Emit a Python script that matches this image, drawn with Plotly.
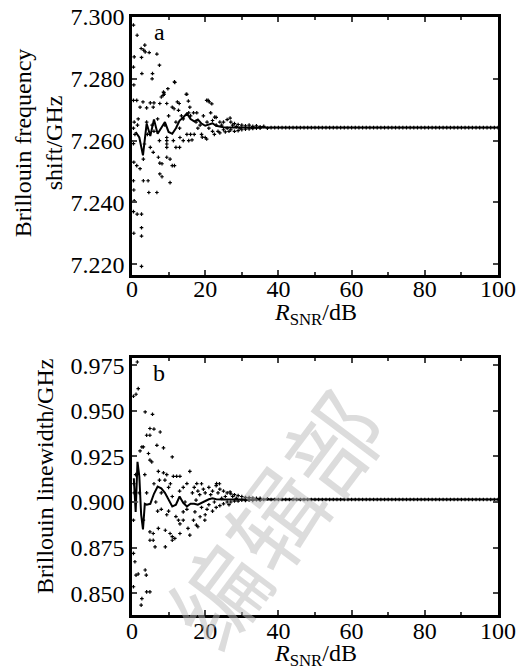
import plotly.graph_objects as go

# ---------------- data: panel a (Brillouin frequency shift) ----------------
a_scatter_x = [0.4, 1.4, 0.6, 0.4, 0.5, 0.4, 0.6, 0.4, 0.8, 0.4, 0.5, 0.4, 0.5, 0.6, 0.4, 0.5,
               1.4, 1.3, 1.3, 1.5, 1.7, 2.2, 2.2,
               2.5, 2.6, 2.7, 2.6, 2.6, 2.6, 2.6, 3.0, 3.1, 3.2, 3.1,
               3.5, 3.6, 3.4, 4.0, 4.4, 4.6, 4.0, 4.2, 4.7,
               5.0, 5.0, 5.6, 5.5, 5.8, 5.8, 6.0, 5.5, 6.0,
               6.8, 6.8, 7.2, 7.5, 7.6, 7.6, 7.6, 7.0, 7.5, 8.0, 8.2, 8.2,
               8.5, 8.7, 8.6, 8.8, 9.5, 9.5, 9.5, 9.5, 9.5, 9.8, 9.5, 9.0, 10.0,
               10.4, 10.4, 11.0, 11.0, 11.5, 11.6, 11.6, 11.7, 11.3, 12.0, 12.0,
               12.4, 12.7, 12.9, 13.0, 13.1, 13.5, 14.0, 14.0, 13.0,
               14.8, 15.0, 15.4, 15.8, 15.0, 16.0, 15.5, 15.5, 16.0,
               16.8, 17.0, 17.5, 17.7, 18.0, 18.6, 19.0, 19.5, 20.0, 20.4, 21.1, 20.5, 21.0,
               16.4, 19.2, 20.4, 20.8, 21.8, 22.6, 26.8,
               21.5, 22.0, 22.0, 22.5, 23.0, 23.0, 23.5, 24.0, 24.0, 24.5, 25.0, 25.0, 25.5, 26.0, 26.0,
               26.5, 27.0, 27.0, 27.5, 28.0, 28.0, 28.5, 29.0, 29.0, 29.5, 30.0, 30.0,
               31, 31, 32, 32, 33, 33, 34, 34, 35, 35, 36, 37]
a_scatter_y = [7.2974, 7.2941, 7.2871, 7.2838, 7.2780, 7.2730, 7.2660, 7.2640, 7.2620, 7.2590, 7.2530, 7.2470, 7.2440, 7.2405, 7.2370, 7.2300,
               7.2362, 7.2519, 7.2730, 7.2650, 7.2670, 7.2509, 7.2708,
               7.2898, 7.2869, 7.2817, 7.2362, 7.2318, 7.2291, 7.2193, 7.2725, 7.2470, 7.2893, 7.2540,
               7.2909, 7.2887, 7.2589, 7.2706, 7.2470, 7.2432, 7.2660, 7.2620, 7.2885,
               7.2722, 7.2578, 7.2817, 7.2800, 7.2708, 7.2562, 7.2722, 7.2650, 7.2630,
               7.2880, 7.2432, 7.2546, 7.2844, 7.2720, 7.2492, 7.2527, 7.2670, 7.2600, 7.2741, 7.2525, 7.2483,
               7.2746, 7.2755, 7.2757, 7.2750, 7.2720, 7.2610, 7.2600, 7.2589, 7.2578, 7.2768, 7.2546, 7.2650, 7.2680,
               7.2464, 7.2540, 7.2708, 7.2519, 7.2703, 7.2790, 7.2519, 7.2788, 7.2600, 7.2578, 7.2660,
               7.2725, 7.2698, 7.2720, 7.2578, 7.2610, 7.2680, 7.2600, 7.2670, 7.2640,
               7.2750, 7.2750, 7.2728, 7.2708, 7.2620, 7.2620, 7.2600, 7.2690, 7.2680,
               7.2690, 7.2620, 7.2660, 7.2690, 7.2640, 7.2650, 7.2620, 7.2680, 7.2610, 7.2730, 7.2725, 7.2660, 7.2640,
               7.2602, 7.2611, 7.2605, 7.2730, 7.2719, 7.2676, 7.2673,
               7.2690, 7.2630, 7.2665, 7.2620, 7.2675, 7.2650, 7.2630, 7.2660, 7.2625, 7.2650, 7.2635, 7.2660, 7.2628, 7.2668, 7.2640,
               7.2630, 7.2660, 7.2635, 7.2650, 7.2630, 7.2655, 7.2645, 7.2632, 7.2652, 7.2640, 7.2650, 7.2635,
               7.2648, 7.2637, 7.2650, 7.2638, 7.2646, 7.2639, 7.2648, 7.2640, 7.2645, 7.2640, 7.2646, 7.2640]
a_flat_x = [38, 39, 40, 41, 42, 43, 44, 45, 46, 47, 48, 49, 50, 51, 52, 53, 54, 55, 56, 57, 58, 59,
            60, 61, 62, 63, 64, 65, 66, 67, 68, 69, 70, 71, 72, 73, 74, 75, 76, 77, 78, 79,
            80, 81, 82, 83, 84, 85, 86, 87, 88, 89, 90, 91, 92, 93, 94, 95, 96, 97, 98, 99, 100]
a_flat_value = 7.2642

a_mean_x = [1, 2, 3, 4, 5, 6, 7, 8, 9, 10, 11, 12, 13, 14, 15, 16, 17, 18, 19, 20,
            21, 22, 23, 24, 25, 26, 30, 40, 50, 60, 70, 80, 90, 100]
a_mean_y = [7.2628, 7.2610, 7.2552, 7.2655, 7.2615, 7.2668, 7.2622, 7.2640, 7.2660, 7.2628,
            7.2622, 7.2640, 7.2665, 7.2675, 7.2688, 7.2670, 7.2662, 7.2668, 7.2655, 7.2648,
            7.2652, 7.2656, 7.2648, 7.2645, 7.2643, 7.2642, 7.2642, 7.2642, 7.2642, 7.2642,
            7.2642, 7.2642, 7.2642, 7.2642]

# ---------------- data: panel b (Brillouin linewidth) ----------------
b_scatter_x = [0.4, 1.1, 1.7, 1.45, 0.8, 0.4, 1.1, 1.7, 0.4, 0.4, 0.5, 0.6, 1.0, 1.2, 2.5, 2.7, 2.7, 3.1, 3.1,
               3.6, 3.6, 3.9, 4.0, 4.0, 4.9, 4.5, 4.9, 4.9, 4.9, 4.9, 4.9, 2.2, 2.0, 3.5, 4.0,
               5.4, 5.6, 5.8, 5.8, 6.0, 6.3, 6.8, 7.2, 7.2, 7.7, 7.5, 6.5, 6.0, 7.0, 8.0, 8.0,
               8.6, 8.6, 9.1, 9.1, 9.5, 9.0, 9.5, 10.0, 10.4, 10.0, 10.5, 11.0, 11.0, 11.0, 11.3, 11.0,
               11.7, 12.2, 12.0, 12.7, 13.1, 13.1, 13.1, 13.0, 14.0, 14.0, 14.0, 14.5, 15.0, 15.3, 15.8, 15.8, 15.0,
               16.8, 17.2, 17.6, 18.0, 18.6, 16.5, 17.0, 17.5, 18.0, 18.5, 19.0, 19.5, 20.0, 20.0, 19.0, 20.5,
               17.7, 23.1, 23.9, 19.9, 26.8,
               21, 21, 21.5, 22, 22, 22.5, 23, 23, 23.5, 24, 24, 24.5, 25, 25, 25.5,
               26, 26, 26.5, 27, 27, 27.5, 28, 28, 28.5, 29, 29, 30, 30,
               31, 31, 32, 32, 33, 33, 34, 34, 35, 35, 36, 37]
b_scatter_y = [0.9580, 0.9591, 0.9622, 0.9768, 0.8672, 0.8718, 0.8599, 0.8605, 0.8535, 0.8900, 0.9100, 0.9050, 0.9150, 0.9000, 0.8434, 0.8470, 0.9302, 0.9302, 0.8900,
               0.9494, 0.8627, 0.8599, 0.9366, 0.8507, 0.8507, 0.9266, 0.9403, 0.9366, 0.9230, 0.8836, 0.8790, 0.9280, 0.9050, 0.9150, 0.9050,
               0.9220, 0.9481, 0.8827, 0.8790, 0.9400, 0.8754, 0.9311, 0.8855, 0.9168, 0.9384, 0.9120, 0.9000, 0.9100, 0.8950, 0.9050, 0.8960,
               0.9297, 0.9160, 0.8754, 0.8845, 0.9150, 0.9120, 0.8930, 0.9080, 0.8827, 0.8950, 0.9100, 0.8810, 0.8790, 0.9247, 0.9141, 0.9030,
               0.8800, 0.9141, 0.8920, 0.8900, 0.8880, 0.8827, 0.9141, 0.9060, 0.8900, 0.8946, 0.9080, 0.9000, 0.9101, 0.8855, 0.8818, 0.9168, 0.8960,
               0.8900, 0.8946, 0.8873, 0.8864, 0.8919, 0.9050, 0.9080, 0.9010, 0.9060, 0.9040, 0.8970, 0.9070, 0.8930, 0.9050, 0.9100, 0.8960,
               0.9101, 0.9101, 0.9100, 0.8900, 0.9055,
               0.9080, 0.8985, 0.9040, 0.8950, 0.9060, 0.9000, 0.9090, 0.8970, 0.9050, 0.8980, 0.9070, 0.9020, 0.8990, 0.9060, 0.9030,
               0.9000, 0.9050, 0.8985, 0.9045, 0.9000, 0.9030, 0.9005, 0.9040, 0.9020, 0.9005, 0.9035, 0.9010, 0.9030,
               0.9008, 0.9025, 0.9010, 0.9024, 0.9009, 0.9022, 0.9012, 0.9020, 0.9010, 0.9020, 0.9014, 0.9018]
b_flat_x = a_flat_x
b_flat_value = 0.9014

b_mean_x = [0.5, 1.0, 1.5, 2.0, 2.5, 3.0, 3.5, 4, 5, 6, 7, 8, 9, 10, 11, 12, 13, 14, 15, 16, 17,
            18, 19, 20, 21, 22, 23, 25, 30, 40, 50, 60, 70, 80, 90, 100]
b_mean_y = [0.9130, 0.8945, 0.9220, 0.9140, 0.8930, 0.8850, 0.8990, 0.8985, 0.8990, 0.9045,
            0.9085, 0.9075, 0.9050, 0.9010, 0.8975, 0.8985, 0.9030, 0.8995, 0.8975, 0.8990,
            0.8990, 0.8985, 0.8995, 0.9005, 0.9015, 0.9020, 0.9015, 0.9014, 0.9014, 0.9014,
            0.9014, 0.9014, 0.9014, 0.9014, 0.9014, 0.9014]

x_ticks = [0, 20, 40, 60, 80, 100]
a_ticks = [7.220, 7.240, 7.260, 7.280, 7.300]
b_ticks = [0.850, 0.875, 0.900, 0.925, 0.950, 0.975]

SERIF = "Liberation Serif, Times New Roman, serif"
FS = 24

fig = go.Figure()
mk = dict(symbol="cross", size=3, color="black", line=dict(width=0))

fig.add_trace(go.Scatter(x=a_scatter_x + a_flat_x, y=a_scatter_y + [a_flat_value] * len(a_flat_x),
                         mode="markers", marker=mk, xaxis="x", yaxis="y", showlegend=False))
fig.add_trace(go.Scatter(x=a_mean_x, y=a_mean_y, mode="lines", line=dict(color="black", width=2),
                         xaxis="x", yaxis="y", showlegend=False))
fig.add_trace(go.Scatter(x=b_scatter_x + b_flat_x, y=b_scatter_y + [b_flat_value] * len(b_flat_x),
                         mode="markers", marker=mk, xaxis="x2", yaxis="y2", showlegend=False))
fig.add_trace(go.Scatter(x=b_mean_x, y=b_mean_y, mode="lines", line=dict(color="black", width=2),
                         xaxis="x2", yaxis="y2", showlegend=False))

common_x = dict(range=[0, 100], tickvals=x_ticks, ticks="inside", ticklen=5, tickwidth=2,
                showline=True, linewidth=2.5, linecolor="black", mirror="ticks", automargin=False,
                showgrid=False, zeroline=False, ticklabeloverflow="allow",
                tickfont=dict(family=SERIF, size=FS, color="black"),
                minor=dict(dtick=10, tick0=0, ticks="inside", ticklen=3, tickwidth=2, showgrid=False))
common_y = dict(ticks="inside", ticklen=5, tickwidth=2, showline=True, linewidth=2.5,
                linecolor="black", mirror="ticks", showgrid=False, zeroline=False, automargin=False,
                ticklabeloverflow="allow", tickfont=dict(family=SERIF, size=FS, color="black"))

fig.update_layout(
    width=519, height=670,
    margin=dict(l=132, r=21, t=17, b=55, autoexpand=False),
    paper_bgcolor="white", plot_bgcolor="white",
    xaxis=dict(anchor="y", domain=[0, 1], ticklabelstandoff=-10, **common_x),
    yaxis=dict(anchor="x", domain=[0.5686, 1], range=[7.2165, 7.300], tickvals=a_ticks,
               tickformat=".3f", **common_y),
    xaxis2=dict(anchor="y2", domain=[0, 1], ticklabelstandoff=-8, **common_x),
    yaxis2=dict(anchor="x2", domain=[0, 0.4298], range=[0.838, 0.979], tickvals=b_ticks,
                tickformat=".3f", **common_y),
)

tfont = dict(family=SERIF, size=FS, color="black")
ann = [
    dict(text="a", x=7.4, y=7.2951, xref="x", yref="y", showarrow=False, font=tfont),
    dict(text="b", x=7.4, y=0.9706, xref="x2", yref="y2", showarrow=False, font=tfont),
    dict(text="Brillouin frequency<br>shift/GHz", x=-0.255, y=0.79, xref="paper", yref="paper",
         textangle=-90, showarrow=False, font=tfont, xanchor="center", yanchor="middle"),
    dict(text="Brillouin linewidth/GHz", x=-0.238, y=0.2324, xref="paper", yref="paper",
         textangle=-90, showarrow=False, font=tfont, xanchor="center", yanchor="middle"),
    dict(text="<i>R</i><sub>SNR</sub>/dB", x=0.5, y=0.5034, xref="paper", yref="paper",
         showarrow=False, font=tfont, xanchor="center", yanchor="middle"),
    dict(text="<i>R</i><sub>SNR</sub>/dB", x=0.5, y=-0.067, xref="paper", yref="paper",
         showarrow=False, font=tfont, xanchor="center", yanchor="middle"),
    dict(text="编辑部", x=(272 - 132) / 366, y=(615 - 517) / 598, xref="paper", yref="paper",
         textangle=-53, showarrow=False, xanchor="center", yanchor="middle",
         font=dict(family="Noto Sans CJK SC", size=95, color="rgba(185,185,185,0.5)")),
]
fig.update_layout(annotations=ann)

# remove the page's default 8 px body margin so the figure sits at the window's corner
fig.write_html("out.html", config={"displayModeBar": False},
               post_script="document.body.style.margin='0';")
